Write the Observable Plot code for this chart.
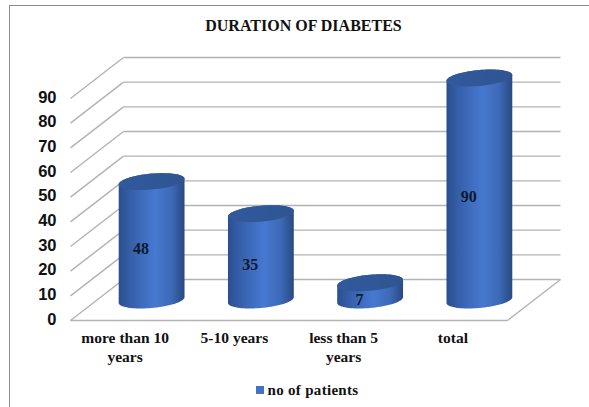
<!DOCTYPE html>
<html>
<head>
<meta charset="utf-8">
<style>
html,body{margin:0;padding:0;background:#fff;overflow:hidden}
#frame{margin:5px 0 0 9px;border-left:1px solid #8c8c8c;border-top:1px solid #8c8c8c;width:579px;height:401px;position:relative}
#title{height:36px;text-align:center;font:bold 16px/40px "Liberation Serif",serif;color:#111;padding-left:8px;box-sizing:border-box;width:579px}
#legend{height:32px;display:flex;align-items:center;justify-content:center;font:bold 15px "Liberation Serif",serif;color:#111;padding-left:15px;box-sizing:border-box;width:579px;letter-spacing:.3px}
#legend i{display:inline-block;width:8px;height:8px;background:#4472c4;margin-right:4px}
svg{display:block}
</style>
<script src="https://cdn.jsdelivr.net/npm/d3@7"></script>
<script src="https://cdn.jsdelivr.net/npm/@observablehq/plot@0.6"></script>
</head>
<body>
<div id="frame">
  <div id="title">DURATION OF DIABETES</div>
  <div id="chart"></div>
  <div id="legend"><i></i>no of patients</div>
</div>
<script>
const categories = ["more than 10\nyears", "5-10 years", "less than 5\nyears", "total"];
const patients = [48, 35, 7, 90];
const ticks = [0, 10, 20, 30, 40, 50, 60, 70, 80, 90];

// oblique projection: depth 0 = front of the floor, depth 1 = back wall
const depthX = 0.485, depthY = 16.62;
const px = (c, d) => c + d * depthX;
const py = (v, d) => v + d * depthY;

const grid = ticks.flatMap(v => [
  {x1: px(0, 0), y1: py(v, 0), x2: px(0, 1), y2: py(v, 1)},
  {x1: px(0, 1), y1: py(v, 1), x2: px(4, 1), y2: py(v, 1)}
]);
const floor = [
  {x1: px(0, 0), y1: 0, x2: px(4, 0), y2: 0},
  {x1: px(4, 0), y1: 0, x2: px(4, 1), y2: py(0, 1)}
];

// cylinder outlines, computed from each value
const rc = 0.284, rd = 0.207, t0 = Math.atan2(11, 31);
const steps = d3.range(0, 41).map(i => i / 40 * Math.PI);
const pt = (i, v, t) => {
  const d = 0.5 + rd * Math.sin(t);
  return {i, x: px(i + 0.5 + rc * Math.cos(t), d), y: py(v, d)};
};
const bodies = patients.flatMap((v, i) => [
  ...steps.map(s => pt(i, 0, t0 + Math.PI + s)),
  ...steps.map(s => pt(i, v, t0 + s))
]);
const caps = patients.flatMap((v, i) => [
  ...steps.map(s => pt(i, v, t0 + s)),
  ...steps.map(s => pt(i, v, t0 + Math.PI + s))
]);

const serif = "Liberation Serif";
const chart = Plot.plot({
  width: 579,
  height: 332,
  marginLeft: 60,
  marginRight: 29,
  marginTop: 15,
  marginBottom: 54,
  style: {background: "#fff", overflow: "visible"},
  x: {domain: [0, px(4, 1)], axis: null},
  y: {domain: [0, py(90, 1)], axis: null},
  marks: [
    Plot.link(grid, {x1: "x1", y1: "y1", x2: "x2", y2: "y2", stroke: "#b3b3b3", strokeWidth: 1.4}),
    Plot.link(floor, {x1: "x1", y1: "y1", x2: "x2", y2: "y2", stroke: "#b3b3b3", strokeWidth: 1.4}),
    Plot.axisY({
      ticks, tickSize: 0, tickPadding: 14, dy: -1, label: null,
      fontFamily: "Liberation Sans", fontWeight: "bold", fontSize: 16.5, fill: "#111"
    }),
    Plot.line(bodies, {x: "x", y: "y", z: "i", fill: "url(#cyl-body)", stroke: "none", curve: "linear"}),
    Plot.line(caps, {x: "x", y: "y", z: "i", fill: "url(#cyl-cap)", stroke: "none", curve: "linear"}),
    Plot.text(patients, {
      x: (v, i) => px(i + 0.5, 0.3), y: v => py(v / 2, 0.3), text: v => String(v),
      fontFamily: serif, fontWeight: "bold", fontSize: 16, fill: "#0c1a2e"
    }),
    Plot.text(categories, {
      x: (c, i) => i + 0.5, y: () => 0, text: c => c,
      dy: 9, lineAnchor: "top", lineHeight: 1.23,
      fontFamily: serif, fontWeight: "bold", fontSize: 15.5, fill: "#111"
    })
  ]
});

const defs = d3.select(chart).insert("defs", ":first-child");
const gradient = (id, stops) => {
  const g = defs.append("linearGradient").attr("id", id);
  stops.forEach(([o, c]) => g.append("stop").attr("offset", o).attr("stop-color", c));
};
gradient("cyl-body", [[0, "#2a4f8f"], [0.18, "#365fa9"], [0.55, "#4779d1"], [0.8, "#3d69b7"], [1, "#294a82"]]);
gradient("cyl-cap", [[0, "#31599c"], [1, "#2f5591"]]);

document.getElementById("chart").append(chart);
</script>
</body>
</html>
